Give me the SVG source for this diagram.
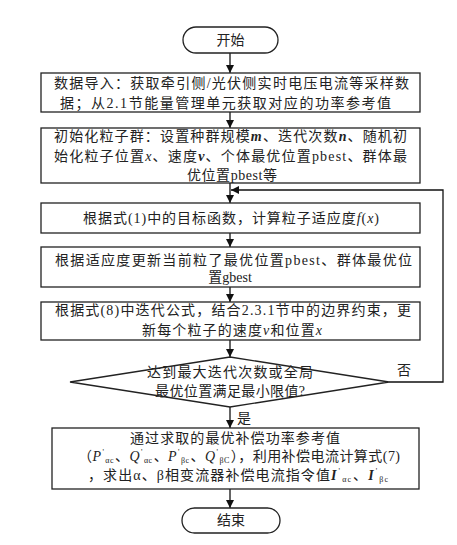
<svg xmlns="http://www.w3.org/2000/svg" width="457" height="545" viewBox="0 0 457 545">
<style>
.b{fill:#fff;stroke:#222;stroke-width:1.3}
.c{fill:none;stroke:#111;stroke-width:1.3}
.t{font-family:"Liberation Serif","Noto Sans CJK SC",serif;font-size:14px;fill:#222}
.m{text-anchor:middle}
.i{font-style:italic}
.bi{font-style:italic;font-weight:bold}
.s{font-size:8px}
</style>
<defs>
<marker id="a" viewBox="0 0 10 10" refX="10" refY="5" markerWidth="8" markerHeight="8" markerUnits="userSpaceOnUse" orient="auto">
<path d="M0,0 L10,5 L0,10 z" fill="#111"/>
</marker>
</defs>
<rect width="457" height="545" fill="#fff"/>
<g id="connectors">
<line class="c" x1="230" y1="53" x2="230" y2="73" marker-end="url(#a)"/>
<line class="c" x1="230" y1="112" x2="230" y2="128" marker-end="url(#a)"/>
<line class="c" x1="230" y1="183" x2="230" y2="203" marker-end="url(#a)"/>
<polyline class="c" points="389,382 443,382 443,190 231,190" marker-end="url(#a)"/>
<line class="c" x1="230" y1="233" x2="230" y2="247" marker-end="url(#a)"/>
<line class="c" x1="230" y1="287" x2="230" y2="302" marker-end="url(#a)"/>
<line class="c" x1="230" y1="340" x2="230" y2="357" marker-end="url(#a)"/>
<line class="c" x1="230" y1="407" x2="230" y2="428" marker-end="url(#a)"/>
<line class="c" x1="230" y1="489" x2="230" y2="508" marker-end="url(#a)"/>
<text class="t" x="397" y="375">否</text>
<text class="t" x="237" y="423">是</text>
</g>
<g id="start">
<rect class="b" x="183" y="27" width="95" height="26" rx="13"/>
<text class="t m" x="230.5" y="45">开始</text>
</g>
<g id="import">
<rect class="b" x="41" y="73" width="379" height="39"/>
<text class="t" x="54" y="88" textLength="355" lengthAdjust="spacing">数据导入：获取牵引侧/光伏侧实时电压电流等采样数</text>
<text class="t" x="60" y="108" textLength="331" lengthAdjust="spacing">据；从2.1节能量管理单元获取对应的功率参考值</text>
</g>
<g id="init">
<rect class="b" x="41" y="128" width="379" height="55"/>
<text class="t" x="54" y="141" textLength="353" lengthAdjust="spacing">初始化粒子群：设置种群规模<tspan class="bi">m</tspan>、迭代次数<tspan class="bi">n</tspan>、随机初</text>
<text class="t" x="54" y="161" textLength="353" lengthAdjust="spacing">始化粒子位置<tspan class="i">x</tspan>、速度<tspan class="bi">v</tspan>、个体最优位置pbest、群体最</text>
<text class="t" x="187" y="180" textLength="90" lengthAdjust="spacing">优位置pbest等</text>
</g>
<g id="fitness">
<rect class="b" x="41" y="203" width="379" height="30"/>
<text class="t" x="83" y="223" textLength="296" lengthAdjust="spacing">根据式(1)中的目标函数，计算粒子适应度<tspan class="i">f</tspan>(<tspan class="i">x</tspan>)</text>
</g>
<g id="update-best">
<rect class="b" x="41" y="247" width="379" height="40"/>
<text class="t" x="55" y="265" textLength="357" lengthAdjust="spacing">根据适应度更新当前粒了最优位置pbest、群体最优位</text>
<text class="t m" x="230" y="282">置gbest</text>
</g>
<g id="update-vx">
<rect class="b" x="41" y="302" width="379" height="38"/>
<text class="t" x="55" y="315" textLength="356" lengthAdjust="spacing">根据式(8)中迭代公式，结合2.3.1节中的边界约束，更</text>
<text class="t" x="142" y="335" textLength="180" lengthAdjust="spacing">新每个粒子的速度<tspan class="i">v</tspan>和位置<tspan class="i">x</tspan></text>
</g>
<g id="decision">
<polygon class="b" points="230,357 389,382 230,407 70,382"/>
<text class="t" x="147" y="377" textLength="166" lengthAdjust="spacing">达到最大迭代次数或全局</text>
<text class="t" x="155" y="396" textLength="150" lengthAdjust="spacing">最优位置满足最小限值?</text>
</g>
<g id="compensate">
<rect class="b" x="52" y="428" width="367" height="61"/>
<text class="t" x="130" y="443" textLength="210" lengthAdjust="spacing">通过求取的最优补偿功率参考值</text>
<text class="t" x="78" y="461" textLength="322" lengthAdjust="spacing">（<tspan class="i">P</tspan><tspan class="s" dx="1" dy="-6">'</tspan><tspan class="s" dx="1" dy="8">αc</tspan><tspan dx="1" dy="-2">、</tspan><tspan class="i">Q</tspan><tspan class="s" dx="1" dy="-6">'</tspan><tspan class="s" dx="1" dy="8">αc</tspan><tspan dx="1" dy="-2">、</tspan><tspan class="i">P</tspan><tspan class="s" dx="1" dy="-6">'</tspan><tspan class="s" dx="1" dy="8">βc</tspan><tspan dx="1" dy="-2">、</tspan><tspan class="i">Q</tspan><tspan class="s" dx="1" dy="-6">'</tspan><tspan class="s" dx="1" dy="8">βC</tspan><tspan dx="1" dy="-2">），利用补偿电流计算式(7)</tspan></text>
<text class="t" x="88" y="480" textLength="300" lengthAdjust="spacing">，求出α、β相变流器补偿电流指令值<tspan class="bi">I</tspan><tspan class="s" dx="1" dy="-6">'</tspan><tspan class="s" dx="1" dy="8">αc</tspan><tspan dx="1" dy="-2">、</tspan><tspan class="bi">I</tspan><tspan class="s" dx="1" dy="-6">'</tspan><tspan class="s" dx="1" dy="8">βc</tspan></text>
</g>
<g id="end">
<rect class="b" x="182" y="508" width="98" height="25" rx="12.5"/>
<text class="t m" x="231" y="525">结束</text>
</g>
</svg>
